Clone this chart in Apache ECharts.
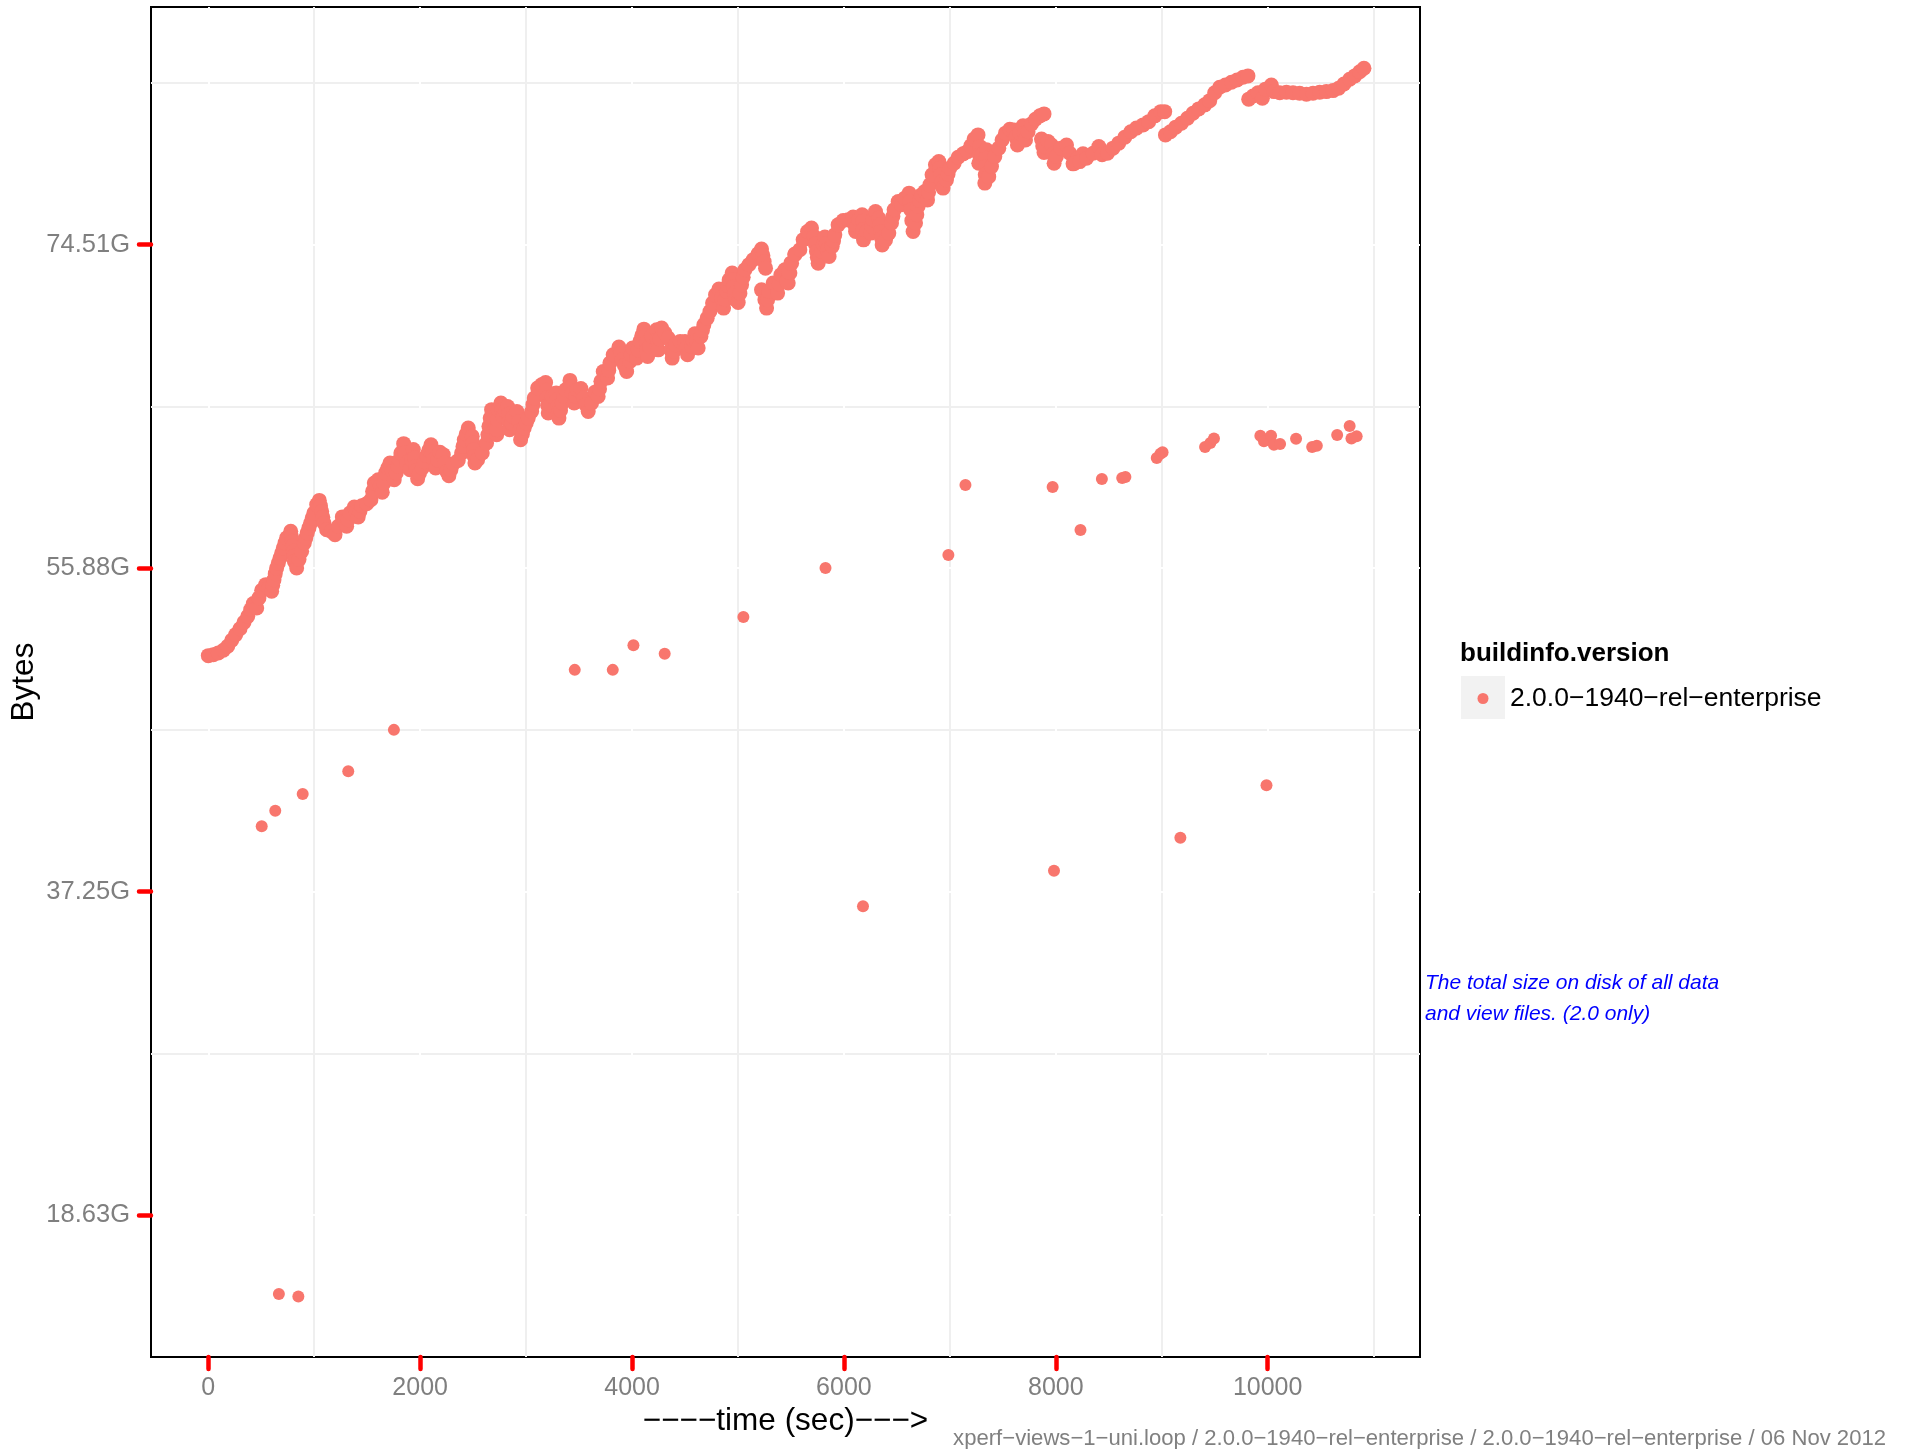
<!DOCTYPE html>
<html>
<head>
<meta charset="utf-8">
<title>xperf-views-1-uni.loop disk size</title>
<script src="https://cdn.jsdelivr.net/npm/echarts@6/dist/echarts.min.js"></script>
<style>
  html, body { margin: 0; padding: 0; background: #ffffff; }
  #chart { width: 1910px; height: 1449px; }
</style>
</head>
<body>
<div id="chart"></div>
<script>
// Sampled disk size over the run: [time in seconds, size in 1e9 bytes]
const bandA = [[0,54.59],[47,54.65],[94,54.76],[142,54.92],[183,55.17],[221,55.54],[259,55.89],[299,56.25],[337,56.65],[372,57.02],[400,57.44],[425,57.81],[457,57.54],[478,58.16],[504,58.63],[542,58.98],[573,58.78],[598,58.57],[608,58.94],[620,59.29],[632,59.66],[645,60.01],[661,60.32],[677,60.63],[693,60.94],[708,61.25],[724,61.56],[740,61.87],[778,62.28],[785,61.97],[793,61.66],[797,61.35],[802,61.04],[807,60.73],[812,60.42],[834,60.01],[856,60.53],[881,61.04],[906,61.56],[920,61.87],[934,62.18],[950,62.49],[966,62.79],[981,63.1],[997,63.41],[1023,63.93],[1048,64.19],[1059,63.85],[1070,63.51],[1081,63.15],[1092,62.79],[1117,62.38],[1158,62.28],[1196,62.07],[1227,62.59],[1265,63.17],[1285,62.88],[1306,62.59],[1321,63.0],[1337,63.41],[1378,63.78],[1397,63.47],[1415,63.17],[1431,63.51],[1448,63.86],[1495,63.99],[1535,64.23],[1551,64.75],[1567,65.27],[1604,65.47],[1623,65.08],[1642,64.69],[1658,65.27],[1674,65.89],[1694,66.19],[1715,66.5],[1737,65.98],[1755,65.47],[1774,65.88],[1793,66.29],[1806,66.71],[1818,67.12],[1844,67.7],[1856,67.12],[1872,66.5],[1903,66.09],[1919,66.71],[1935,67.33],[1946,66.81],[1957,66.29],[1966,66.04],[1976,65.53],[1993,65.86],[2020,66.19],[2040,66.58],[2061,66.96],[2081,67.29],[2102,67.63],[2114,67.17],[2127,66.71],[2146,66.19],[2166,66.68],[2186,67.16],[2218,67.02],[2234,66.5],[2250,65.98],[2271,65.72],[2290,66.09],[2312,66.46],[2359,66.66],[2391,67.12],[2404,67.53],[2416,67.94],[2435,68.3],[2454,68.67],[2491,68.15],[2498,67.74],[2505,67.33],[2510,66.91],[2517,66.5],[2542,66.71],[2586,67.12],[2627,67.74],[2639,68.25],[2649,68.77],[2661,69.28],[2674,69.8],[2699,69.18],[2710,68.71],[2722,68.25]];

const bandB = [[2722,68.56],[2729,69.18],[2737,69.8],[2762,70.21],[2773,69.8],[2784,69.38],[2805,69.69],[2825,70.0],[2833,69.52],[2838,69.03],[2844,68.56],[2861,68.97],[2878,69.38],[2913,69.69],[2932,69.07],[2940,68.51],[2948,67.94],[2965,68.3],[2982,68.67],[3001,68.98],[3020,69.28],[3052,69.69],[3064,70.11],[3077,70.52],[3109,71.14],[3146,71.34],[3184,71.48],[3190,71.0],[3196,70.52],[3203,70.06],[3209,69.59],[3227,70.11],[3246,70.62],[3284,70.83],[3291,70.41],[3297,70.0],[3303,69.64],[3310,69.28],[3325,69.75],[3341,70.21],[3357,70.62],[3373,71.03],[3414,71.61],[3425,71.22],[3435,70.83],[3454,70.21],[3468,70.62],[3482,71.03],[3517,71.11],[3543,70.52],[3564,70.11],[3586,69.69],[3618,70.21],[3649,70.87],[3680,70.62],[3693,71.08],[3706,71.55],[3728,72.16],[3769,71.76],[3780,72.22],[3791,72.68],[3822,73.2],[3876,73.67],[3892,73.28],[3907,72.89],[3928,72.53],[3949,72.16],[3980,72.78],[3992,73.2],[4005,73.61],[4043,72.99],[4058,73.5],[4074,74.02],[4093,74.4],[4112,74.78],[4124,74.35],[4137,73.92],[4142,73.5],[4147,73.09],[4166,73.71],[4184,74.33],[4232,74.74],[4239,74.12],[4247,73.5],[4263,74.17],[4279,74.85],[4310,74.54],[4341,74.23],[4364,73.5],[4379,72.99],[4395,73.4],[4411,73.82],[4454,74.02],[4499,74.02],[4511,73.61],[4524,73.2],[4562,73.71],[4577,74.1],[4593,74.49],[4609,74.05],[4624,73.61],[4650,74.33],[4664,74.69],[4678,75.05],[4709,75.46],[4735,75.87],[4760,76.39],[4788,76.9],[4820,77.26],[4845,76.7],[4864,76.08],[4878,76.6],[4892,77.11],[4904,77.47],[4917,77.83],[4945,78.25],[4953,77.83],[4961,77.42],[4969,77.01],[4977,76.6],[5002,76.43],[5018,76.98],[5034,77.52],[5049,77.99],[5065,78.45],[5103,78.76],[5143,79.07],[5190,79.44],[5222,79.73],[5235,79.34],[5247,78.96],[5260,78.55],
  [5222,77.21],[5254,76.6],[5270,76.08],[5280,76.6],[5291,77.11],[5332,77.63],[5374,77.01],[5389,77.57],[5405,78.14],[5442,78.45],[5474,77.63],[5490,78.25],[5506,78.86],[5537,79.38]];

const bandC = [[5458,77.73],[5478,78.3],[5499,78.86],[5537,79.43],[5584,79.69],[5615,80.3],[5657,80.82],[5694,81.03],[5719,80.51],[5730,80.04],[5741,79.58],[5749,79.22],[5757,78.86],[5773,79.22],[5789,79.58],[5804,80.02],[5820,80.47],[5832,80.08],[5845,79.69],[5860,79.27],[5889,79.89],[5902,80.25],[5914,80.61],[5945,81.23],[5993,81.5],[6040,81.54],[6087,81.71],[6098,81.26],[6110,80.82],[6125,81.18],[6141,81.54],[6172,81.85],[6177,81.45],[6181,80.92],[6185,80.3],[6213,80.82],[6254,80.72],[6265,81.13],[6276,81.54],[6298,82.05],[6329,81.64],[6339,81.23],[6348,80.82],[6355,80.41],[6361,79.99],[6393,80.3],[6424,80.72],[6449,81.34],[6462,81.74],[6474,82.16],[6512,82.67],[6544,82.47],[6575,82.88],[6615,83.19],[6624,82.67],[6631,82.16],[6641,81.49],[6653,80.82],[6676,81.34],[6688,81.85],[6700,82.36],[6716,82.73],[6732,83.08],[6763,83.29],[6789,82.77],[6799,83.24],[6811,83.7],[6832,84.32],[6864,84.94],[6896,85.14],[6905,84.73],[6914,84.32],[6926,83.91],[6936,83.5],[6968,84.01],[6983,84.37],[6999,84.73],[7040,85.04],[7078,85.41],[7125,85.62],[7166,85.76],[7198,86.11],[7229,86.53],[7266,86.79],[7283,86.07],[7278,85.56],[7273,85.04],[7304,85.56],[7346,85.87],[7342,85.35],[7339,84.83],[7334,84.32],[7330,83.81],[7367,84.21],[7393,84.83],[7424,85.45],[7462,85.97],[7493,86.48],[7525,86.9],[7566,87.14],[7606,87.1],[7622,86.64],[7638,86.17],[7660,86.9],[7691,87.35],[7703,86.92],[7714,86.48],[7738,86.99],[7770,87.47],[7808,87.76],[7849,87.97],[7889,88.09],
  [7865,86.53],[7877,86.11],[7889,85.7],[7908,86.04],[7927,86.38],[7959,86.17],[7972,85.61],[7984,85.04],[8006,85.45],[8047,85.97],[8101,86.17],[8132,85.66],[8163,85.0],[8205,85.35],[8257,85.62]];

const bandD = [[8179,85.04],[8226,85.14],[8290,85.35],[8352,85.66],[8406,86.07],[8437,85.56],[8488,85.66],[8540,85.97],[8594,86.28],[8651,86.65],[8708,86.99],[8761,87.21],[8824,87.41],[8877,87.61],[8934,87.97],[8991,88.23],[9028,88.23],
  [9035,86.79],[9082,86.99],[9132,87.27],[9186,87.51],[9243,87.82],[9295,88.13],[9349,88.4],[9406,88.65],[9453,88.91],[9500,89.4],[9547,89.74],[9601,89.88],[9658,90.05],[9711,90.19],[9767,90.36],[9814,90.44],
  [9821,89.0],[9862,89.2],[9909,89.4],[9950,89.06],[9979,89.62],[10035,89.88],[10060,89.47],[10114,89.4],[10177,89.43],[10239,89.4],[10302,89.37],[10366,89.31],[10428,89.37],[10491,89.43],[10554,89.47],[10617,89.53],[10670,89.68],[10720,89.94],[10774,90.23],[10822,90.44],[10869,90.7],[10909,90.91]];

// Isolated samples away from the main trend
const sparseUpper = [[504,44.04],[632,45.0],[891,46.04],[1321,47.44],[1752,50.0],[3459,53.71],[3818,53.71],[4013,55.23],[4308,54.7],[5051,56.98],[5826,60.01],[6986,60.82],[7147,65.14],[7970,65.02],[8233,62.36],[8435,65.51],[8627,65.57],[8657,65.64],[8953,66.81],[8988,67.08],[9008,67.16],[9409,67.49],[9459,67.74],[9493,68.02],[9931,68.19],[9965,67.84],[10032,68.19],[10059,67.63],[10117,67.68],[10268,68.0],[10420,67.49],[10464,67.57],[10656,68.23],[10774,68.79],[10791,68.02],[10840,68.15]];
const sparseLower = [[666,15.11],[850,14.96],[6180,39.1],[7983,41.29],[9176,43.33],[9989,46.58]];

// Tick positions (seconds, 1e9 bytes)
const timeTicks = [0, 2000, 4000, 6000, 8000, 10000];
const timeMinor = [1000, 3000, 5000, 7000, 9000, 11000];
const byteTicks = [20, 40, 60, 80];
const byteMinor = [30, 50, 70, 90];

const versionName = '2.0.0\u22121940\u2212rel\u2212enterprise';
const footerText = 'xperf\u2212views\u22121\u2212uni.loop / 2.0.0\u22121940\u2212rel\u2212enterprise / 2.0.0\u22121940\u2212rel\u2212enterprise / 06 Nov 2012';

const FONT = '"Liberation Sans", Arial, Helvetica, sans-serif';
const POINT = '#F8766D';
const X_RANGE = [-541, 11438];
const Y_RANGE = [11.22, 94.7];

// axis values are in 1e9 bytes; labels are shown in GiB
function gib(v) {
  return (v * 1e9 / 1073741824).toFixed(2) + 'G';
}

const chart = echarts.init(document.getElementById('chart'), null, { renderer: 'canvas' });

const option = {
  animation: false,
  backgroundColor: '#ffffff',
  grid: {
    left: 151, right: 490, top: 7, bottom: 92,
    containLabel: false, outerBoundsMode: 'none',
    show: true, borderColor: '#000000', borderWidth: 2, backgroundColor: 'transparent'
  },
  xAxis: [
    {
      // minor grid lines
      type: 'value', min: X_RANGE[0], max: X_RANGE[1], position: 'top', z: 0,
      axisLine: { show: false, onZero: false },
      axisTick: { show: false, customValues: timeMinor },
      axisLabel: { show: false },
      splitLine: { show: true, lineStyle: { color: '#EFEFEF', width: 2 } }
    },
    {
      type: 'value', min: X_RANGE[0], max: X_RANGE[1], position: 'bottom', z: 1,
      axisLine: { show: false, onZero: false },
      axisTick: {
        show: true, customValues: timeTicks, length: 12,
        lineStyle: { color: '#FF0000', width: 4.5, cap: 'round' }
      },
      axisLabel: {
        customValues: timeTicks, margin: 19, color: '#7F7F7F',
        fontSize: 25, fontFamily: FONT, formatter: v => String(v)
      },
      splitLine: { show: true, lineStyle: { color: '#FFFFFF', width: 2 } },
      name: '\u2212\u2212\u2212\u2212time (sec)\u2212\u2212\u2212>',
      nameLocation: 'middle', nameGap: 48, nameMoveOverlap: false,
      nameTextStyle: { fontSize: 31.5, color: '#000000', fontFamily: FONT }
    }
  ],
  yAxis: [
    {
      // minor grid lines
      type: 'value', min: Y_RANGE[0], max: Y_RANGE[1], position: 'right', z: 0,
      axisLine: { show: false, onZero: false },
      axisTick: { show: false, customValues: byteMinor },
      axisLabel: { show: false },
      splitLine: { show: true, lineStyle: { color: '#EFEFEF', width: 2 } }
    },
    {
      type: 'value', min: Y_RANGE[0], max: Y_RANGE[1], position: 'left', z: 1,
      axisLine: { show: false, onZero: false },
      axisTick: {
        show: true, customValues: byteTicks, length: 12,
        lineStyle: { color: '#FF0000', width: 4.5, cap: 'round' }
      },
      axisLabel: {
        customValues: byteTicks, margin: 21, color: '#7F7F7F',
        fontSize: 25.5, fontFamily: FONT, formatter: gib
      },
      splitLine: { show: true, lineStyle: { color: '#FFFFFF', width: 2 } },
      name: 'Bytes', nameLocation: 'middle', nameRotate: 90, nameGap: 111, nameMoveOverlap: false,
      nameTextStyle: { fontSize: 31.5, color: '#000000', fontFamily: FONT }
    }
  ],
  legend: {
    orient: 'vertical', left: 1477.5, top: 685, padding: 0,
    icon: 'circle', itemWidth: 11, itemHeight: 11,
    selectedMode: false,
    data: [versionName],
    textStyle: { fontSize: 26.5, color: '#000000', fontFamily: FONT, padding: [0, 0, 0, 16.5] }
  },
  graphic: [
    { type: 'rect', x: 1461, y: 676, shape: { width: 44, height: 43 }, style: { fill: '#F2F2F2' }, silent: true, z: -1 },
    { type: 'text', x: 1460, y: 654, silent: true,
      style: { text: 'buildinfo.version', fill: '#000000', fontSize: 26, fontWeight: 'bold', fontFamily: FONT, align: 'left', verticalAlign: 'middle' } },
    { type: 'text', x: 1425, y: 983, silent: true,
      style: { text: 'The total size on disk of all data', fill: '#0000FF', fontSize: 21, fontStyle: 'italic', fontFamily: FONT, align: 'left', verticalAlign: 'middle' } },
    { type: 'text', x: 1425, y: 1014.5, silent: true,
      style: { text: 'and view files. (2.0 only)', fill: '#0000FF', fontSize: 21, fontStyle: 'italic', fontFamily: FONT, align: 'left', verticalAlign: 'middle' } },
    { type: 'text', x: 1886, y: 1439, silent: true,
      style: { text: footerText, fill: '#808080', fontSize: 22.1, fontFamily: FONT, align: 'right', verticalAlign: 'middle' } }
  ],
  series: [
    {
      name: versionName, type: 'scatter', xAxisIndex: 1, yAxisIndex: 1,
      symbol: 'circle', symbolSize: 15,
      itemStyle: { color: POINT, opacity: 1 },
      data: bandA.concat(bandB, bandC, bandD)
    },
    {
      name: versionName, type: 'scatter', xAxisIndex: 1, yAxisIndex: 1,
      symbol: 'circle', symbolSize: 12,
      itemStyle: { color: POINT, opacity: 1 },
      data: sparseUpper.concat(sparseLower)
    }
  ]
};

chart.setOption(option);
</script>
</body>
</html>
